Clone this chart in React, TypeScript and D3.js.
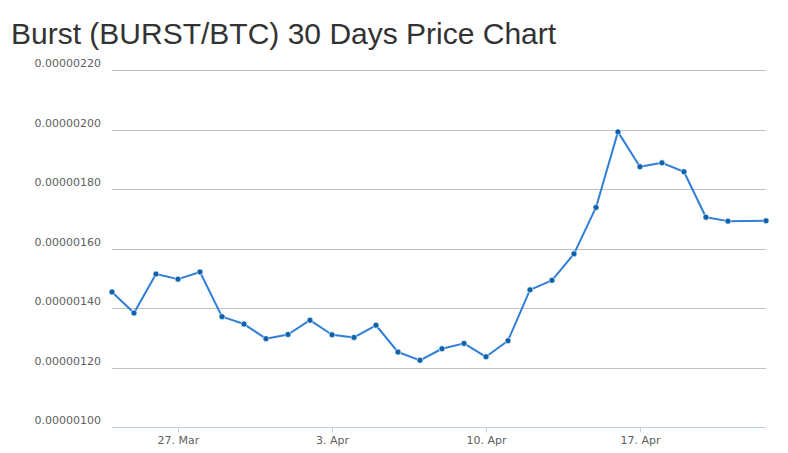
import React, { useEffect, useRef } from "react";
import * as d3 from "d3";

// daily closes, in satoshi (1e-8 BTC)
const dates = [
  "2018-03-24", "2018-03-25", "2018-03-26", "2018-03-27", "2018-03-28",
  "2018-03-29", "2018-03-30", "2018-03-31", "2018-04-01", "2018-04-02",
  "2018-04-03", "2018-04-04", "2018-04-05", "2018-04-06", "2018-04-07",
  "2018-04-08", "2018-04-09", "2018-04-10", "2018-04-11", "2018-04-12",
  "2018-04-13", "2018-04-14", "2018-04-15", "2018-04-16", "2018-04-17",
  "2018-04-18", "2018-04-19", "2018-04-20", "2018-04-21", "2018-04-22T17:30",
];
const prices = [
  145.4, 138.3, 151.4, 149.7, 152.1, 137.1, 134.6, 129.7, 131.1, 135.9,
  131.0, 130.1, 134.2, 125.2, 122.4, 126.3, 128.1, 123.6, 129.0, 146.1,
  149.3, 158.2, 173.8, 199.2, 187.5, 188.8, 185.8, 170.5, 169.2, 169.3,
];
const yTicks = [100, 120, 140, 160, 180, 200, 220];
const xTicks = ["2018-03-27", "2018-04-03", "2018-04-10", "2018-04-17"];

const title = "Burst (BURST/BTC) 30 Days Price Chart";
const labelFont = "'DejaVu Sans', Verdana, sans-serif";

const App: React.FC = () => {
  const svgRef = useRef<SVGSVGElement>(null);

  useEffect(() => {
    if (!svgRef.current) return;
    const width = 788;
    const height = 453;
    const margin = { top: 70, right: 22, bottom: 26, left: 112 };

    const svg = d3.select(svgRef.current);
    svg.selectAll("*").remove();

    const parse = (s: string) => new Date(s.length > 10 ? s + ":00Z" : s + "T00:00:00Z");
    const data = dates.map((d, i) => ({ date: parse(d), value: prices[i] }));

    const x = d3
      .scaleUtc()
      .domain([data[0].date, data[data.length - 1].date])
      .range([margin.left, width - margin.right]);
    const y = d3
      .scaleLinear()
      .domain([100, 220])
      .range([height - margin.bottom, margin.top]);

    // Title
    svg
      .append("text")
      .attr("x", 11)
      .attr("y", 44)
      .attr("fill", "#333333")
      .attr("font-size", "30px")
      .text(title);

    // Grid lines + y labels
    const grid = svg.append("g");
    grid
      .selectAll("line")
      .data(yTicks)
      .enter()
      .append("line")
      .attr("x1", margin.left)
      .attr("x2", width - margin.right)
      .attr("y1", (d) => Math.round(y(d)) + 0.5)
      .attr("y2", (d) => Math.round(y(d)) + 0.5)
      .attr("stroke", "#C0C0C0")
      .attr("stroke-width", 1);
    grid
      .selectAll("text")
      .data(yTicks)
      .enter()
      .append("text")
      .attr("x", 101)
      .attr("y", (d) => y(d) - 3)
      .attr("text-anchor", "end")
      .attr("fill", "#606060")
      .attr("font-size", "11px")
      .attr("font-family", labelFont)
      .text((d) => (d * 1e-8).toFixed(8));

    // X axis
    const xAxis = d3
      .axisBottom(x)
      .tickValues(xTicks.map(parse))
      .tickSize(5)
      .tickPadding(4)
      .tickFormat((d: any) => d3.utcFormat("%-d. %b")(d));
    svg
      .append("g")
      .attr("transform", `translate(0,${Math.round(y(100)) + 0.5})`)
      .call(xAxis)
      .call((g) =>
        g
          .select(".domain")
          .attr("d", `M${margin.left},0H${width - margin.right}`)
          .attr("stroke", "#C0D0E0")
      )
      .call((g) => g.selectAll(".tick line").attr("stroke", "#C0D0E0"))
      .call((g) =>
        g
          .selectAll("text")
          .attr("fill", "#606060")
          .attr("font-size", "11px")
          .attr("font-family", labelFont)
      );

    // Line
    const line = d3
      .line<{ date: Date; value: number }>()
      .x((d) => x(d.date))
      .y((d) => y(d.value));
    svg
      .append("path")
      .datum(data)
      .attr("d", line)
      .attr("fill", "none")
      .attr("stroke", "#2f7ed8")
      .attr("stroke-width", 2)
      .attr("stroke-linejoin", "round");

    // Markers
    svg
      .append("g")
      .selectAll("circle")
      .data(data)
      .enter()
      .append("circle")
      .attr("cx", (d) => x(d.date))
      .attr("cy", (d) => y(d.value))
      .attr("r", 3)
      .attr("fill", "#0d62ad")
      .attr("stroke", "#ffffff")
      .attr("stroke-width", 0.6);
  }, []);

  return (
    <svg
      ref={svgRef}
      width={788}
      height={453}
      style={{
        position: "absolute",
        left: 0,
        top: 0,
        fontFamily: "'Liberation Sans', Arial, Helvetica, sans-serif",
        background: "#ffffff",
      }}
    />
  );
};

export default App;
